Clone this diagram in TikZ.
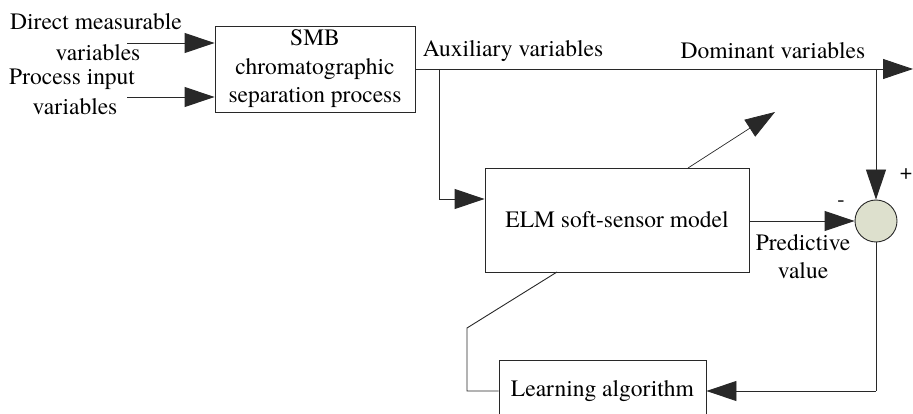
\documentclass[tikz,border=0pt]{standalone}
\usepackage{fontspec}
\setmainfont{TeX Gyre Termes}
\usetikzlibrary{arrows.meta}
\definecolor{sumfill}{RGB}{221,224,205}
\definecolor{linegray}{RGB}{40,40,40}
\begin{document}
\begin{tikzpicture}[x=1pt,y=-1pt,
  font=\fontsize{23.5}{28.5}\selectfont,
  wire/.style={draw=linegray,line width=0.9pt},
  flow/.style={wire,-{Triangle[length=30pt,width=20pt]}},
  block/.style={draw=linegray,line width=0.9pt,rectangle,inner sep=0pt,align=center},
  lbl/.style={inner sep=0pt,align=center}]
\useasboundingbox (0,0) rectangle (913,414);

% blocks
\node[block,minimum width=200pt,minimum height=86pt] (smb) at (315,69)
  {SMB\\chromatographic\\separation process};
\node[block,minimum width=264pt,minimum height=104pt] (elm) at (617,220)
  {ELM soft-sensor model};
\node[block,minimum width=207pt,minimum height=62pt] (learn) at (602.5,391)
  {\raisebox{2pt}{Learning algorithm}};
\node[circle,draw=linegray,line width=0.9pt,fill=sumfill,minimum size=42pt,inner sep=0pt] (sum) at (876,221) {};

% labels
\node[lbl] (t1) at (96,22) {Direct measurable};
\node[lbl] (t2) at (98,53) {variables};
\node[lbl] (t3) at (72,79) {Process input};
\node[lbl] (t4) at (75,107) {variables};
\node[lbl] (aux) at (513,51) {Auxiliary variables};
\node[lbl] (dom) at (773,51) {Dominant variables};
\node[lbl] (plus) at (906,174) {\fontsize{22}{24}\selectfont +};
\node[lbl] (minus) at (841,204) {\fontsize{22}{24}\selectfont -};
\node[lbl] (pred) at (803,243) {Predictive};
\node[lbl] (val) at (803,271) {value};

% connector points
\coordinate (in1) at (127,43);
\coordinate (in2) at (127,97);
\coordinate (br) at (439,69);
\coordinate (brd) at (439,199);
\coordinate (dm) at (876,69);
\coordinate (out) at (913,69);
\coordinate (fbk) at (876,391);
\coordinate (lk1) at (467,391);
\coordinate (lk2) at (467,328);
\coordinate (adj) at (775,112);

% inputs
\draw[flow] (in1) -- (smb.west |- in1);
\draw[flow] (in2) -- (smb.west |- in2);

% main output line
\draw[flow] (smb.east) -- (out);
\draw[wire] (br) -- (brd);
\draw[flow] (brd) -- (elm.west |- brd);
\draw[flow] (dm) -- (sum.north);

% model output and error feedback
\draw[flow] (elm.east |- sum.west) -- (sum.west);
\draw[wire] (sum.south) -- (fbk);
\draw[flow] (fbk) -- (learn.east);

% parameter adjustment path
\draw[wire] (learn.west) -- (lk1) -- (lk2) -- (557,272);
\draw[flow,line width=0.7pt] (688,168) -- (adj);
\end{tikzpicture}
\end{document}
